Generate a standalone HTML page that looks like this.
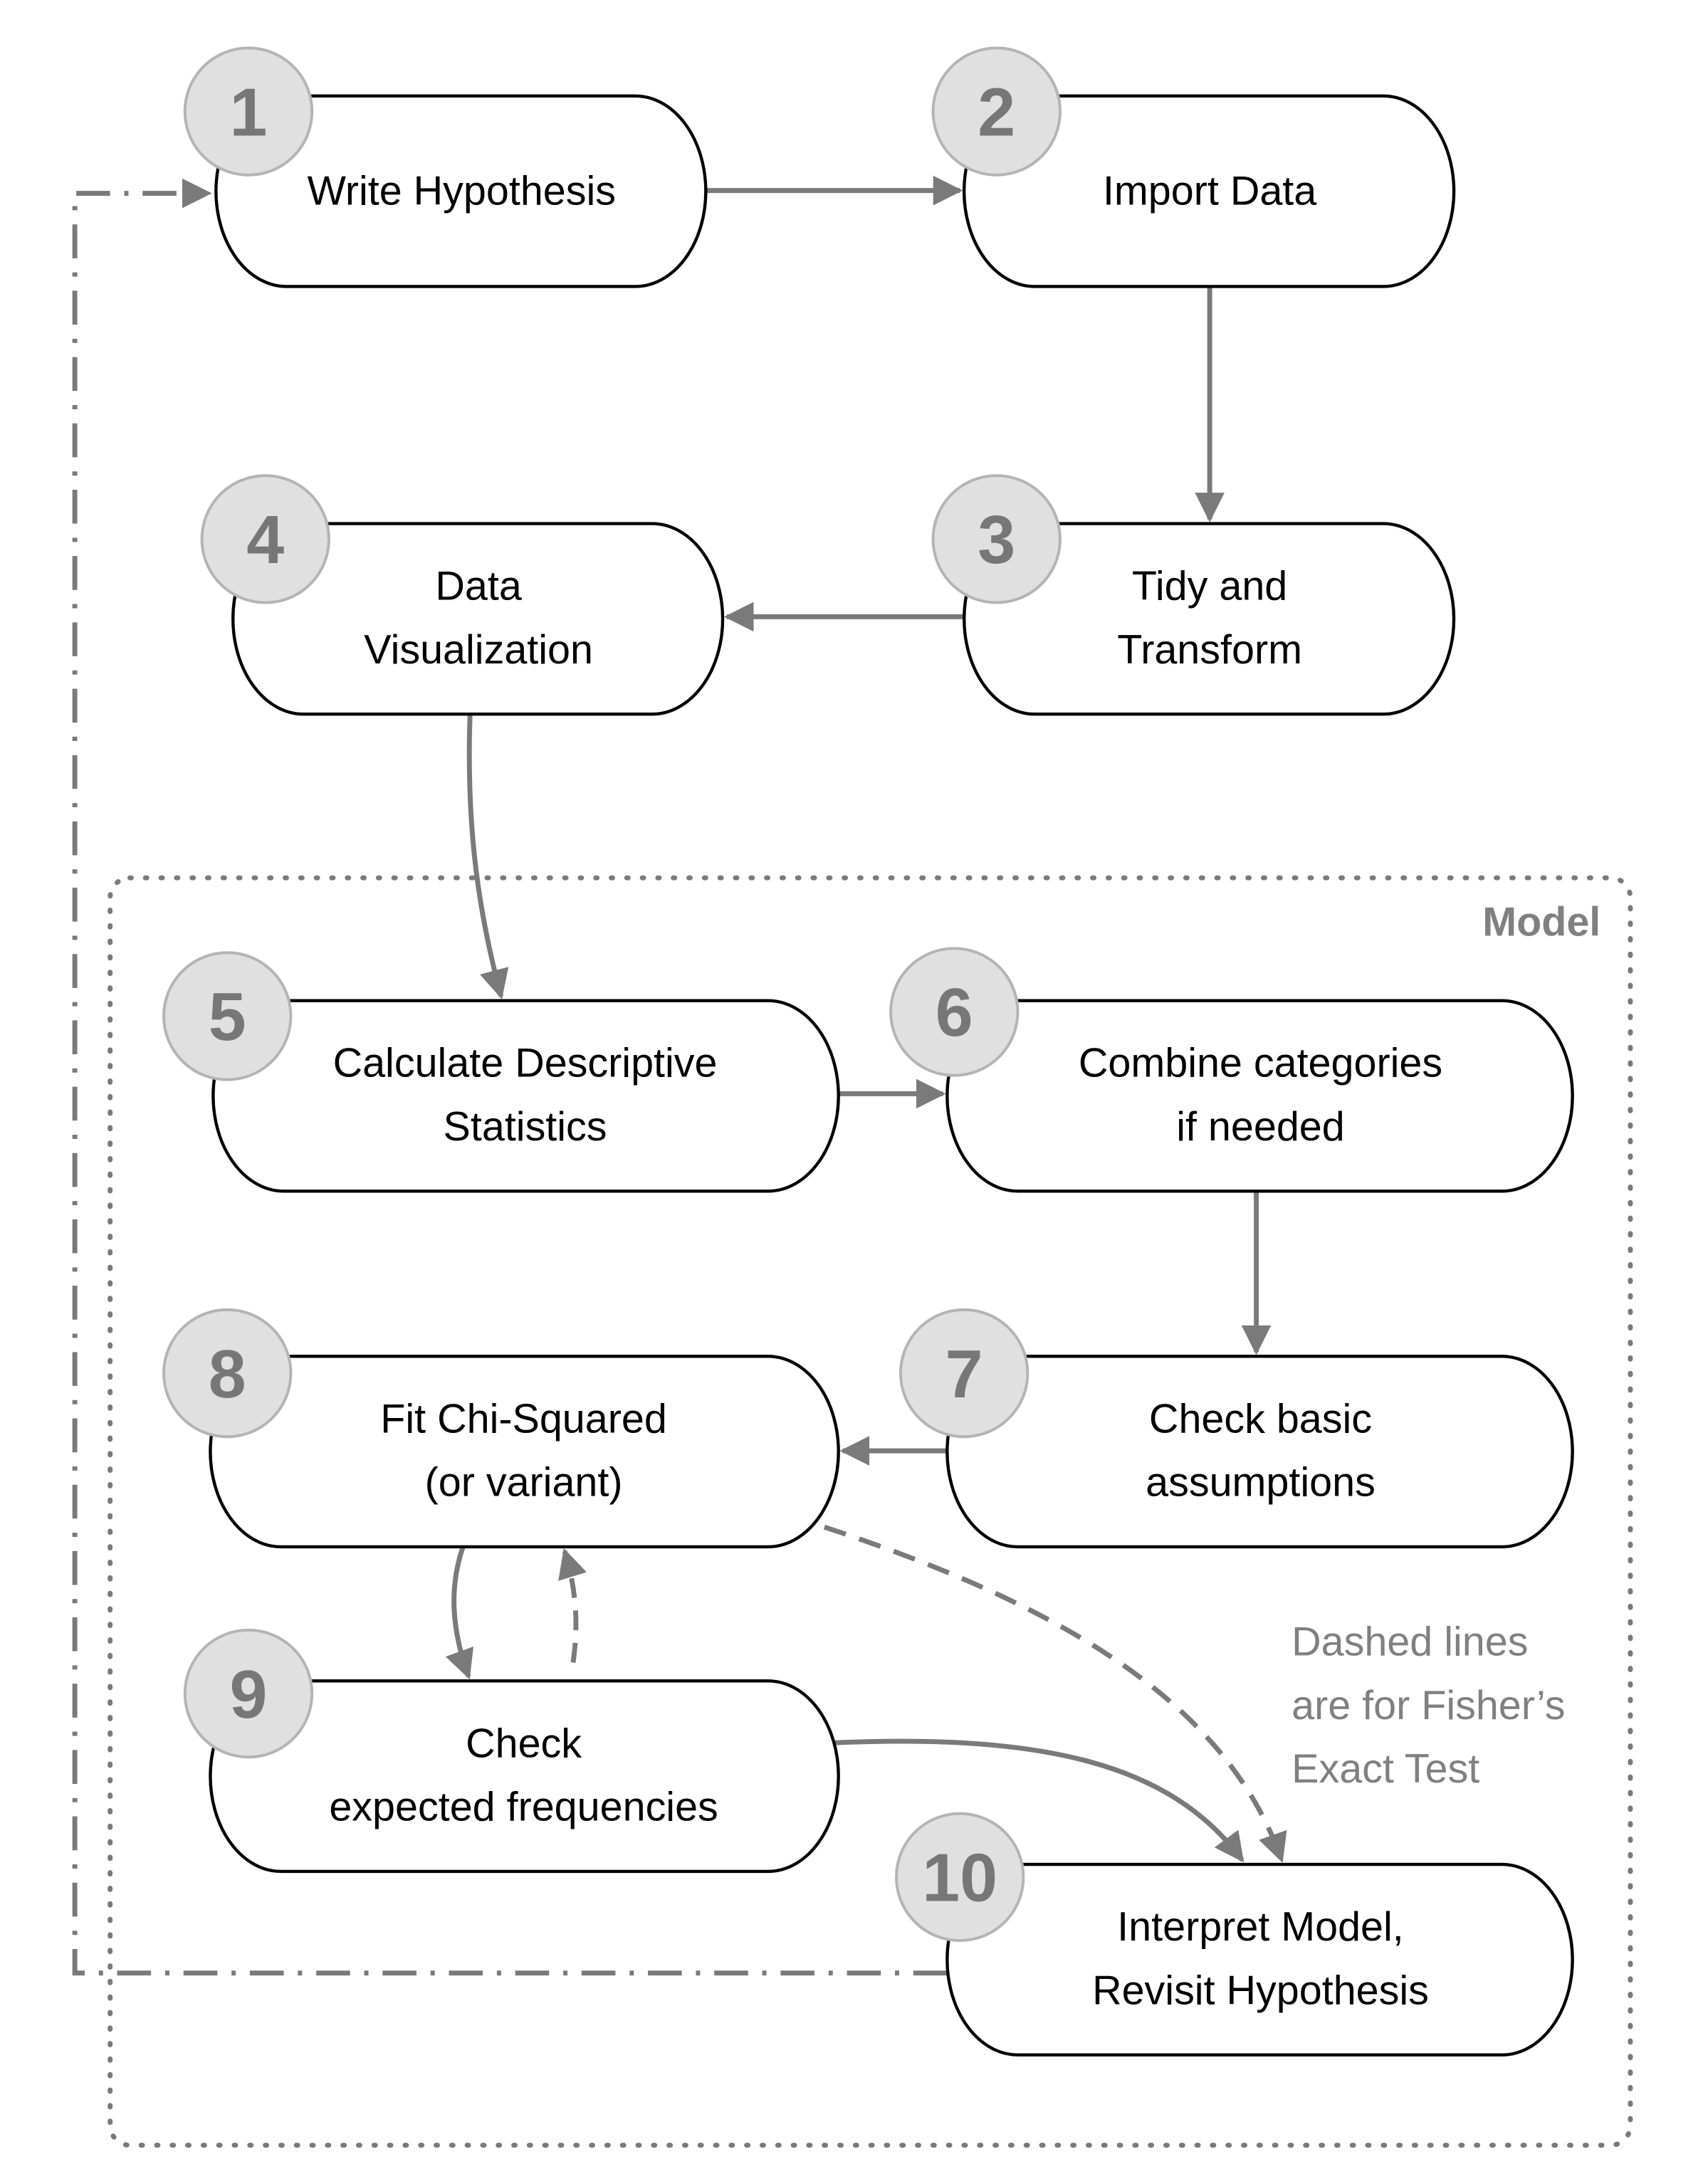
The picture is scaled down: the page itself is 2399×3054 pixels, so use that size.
<!DOCTYPE html>
<html><head><meta charset="utf-8"><style>
html,body{margin:0;padding:0;background:#fff;}
svg{display:block;}
.t{font-family:"Liberation Sans",sans-serif;font-size:29px;fill:#000;text-anchor:middle;}
.n{font-family:"Liberation Sans",sans-serif;font-size:48px;font-weight:bold;fill:#777;text-anchor:middle;}
.g{font-family:"Liberation Sans",sans-serif;font-size:29px;fill:#808080;}
.b{fill:#fff;stroke:#000;stroke-width:2.2;}
.c{fill:#e0e0e0;stroke:#b4b4b4;stroke-width:2;}
.a{fill:none;stroke:#7a7a7a;stroke-width:3.5;}
</style></head><body>
<svg width="2399" height="3054" viewBox="0 0 1210 1540.4" xmlns="http://www.w3.org/2000/svg">
<defs>
<marker id="ar" viewBox="0 0 10 10" refX="9" refY="5" markerWidth="6" markerHeight="6" orient="auto" markerUnits="strokeWidth">
<path d="M0,0 L10,5 L0,10 z" fill="#7a7a7a"/></marker>
</defs>
<rect x="78" y="622" width="1077" height="898" rx="14" fill="none" stroke="#7a7a7a" stroke-width="3.5" stroke-dasharray="1 10" stroke-linecap="round"/>
<text x="1134" y="663" class="g" font-weight="bold" text-anchor="end" font-size="28">Model</text>
<path d="M671,1398 H53 V137 H148" class="a" stroke-dasharray="24 10 3 10" marker-end="url(#ar)"/>
<path d="M500,135 H680" class="a" marker-end="url(#ar)"/>
<path d="M857,203 V368" class="a" marker-end="url(#ar)"/>
<path d="M683,437 H515" class="a" marker-end="url(#ar)"/>
<path d="M333,506 C330,590 340,650 355,706" class="a" marker-end="url(#ar)"/>
<path d="M594,775 H668" class="a" marker-end="url(#ar)"/>
<path d="M890,844 V958" class="a" marker-end="url(#ar)"/>
<path d="M671,1028 H597" class="a" marker-end="url(#ar)"/>
<path d="M328,1096 C318,1125 320,1155 332,1188" class="a" marker-end="url(#ar)"/>
<path d="M406,1178 C410,1150 408,1125 400,1099" class="a" stroke-dasharray="14 9" marker-end="url(#ar)"/>
<path d="M588,1235 C740,1228 830,1250 880,1318" class="a" marker-end="url(#ar)"/>
<path d="M584,1082 C760,1140 870,1210 908,1318" class="a" stroke-dasharray="16 10" marker-end="url(#ar)"/>
<g>
<path class="b" d="M203,68 H450 A50,67.5 0 0 1 450,203 H203 A50,67.5 0 0 1 203,68 Z"/>
<path class="b" d="M733,68 H980 A50,67.5 0 0 1 980,203 H733 A50,67.5 0 0 1 733,68 Z"/>
<path class="b" d="M733,371 H980 A50,67.5 0 0 1 980,506 H733 A50,67.5 0 0 1 733,371 Z"/>
<path class="b" d="M215,371 H462 A50,67.5 0 0 1 462,506 H215 A50,67.5 0 0 1 215,371 Z"/>
<path class="b" d="M201,709 H544 A50,67.5 0 0 1 544,844 H201 A50,67.5 0 0 1 201,709 Z"/>
<path class="b" d="M721,709 H1064 A50,67.5 0 0 1 1064,844 H721 A50,67.5 0 0 1 721,709 Z"/>
<path class="b" d="M721,961 H1064 A50,67.5 0 0 1 1064,1096 H721 A50,67.5 0 0 1 721,961 Z"/>
<path class="b" d="M199,961 H544 A50,67.5 0 0 1 544,1096 H199 A50,67.5 0 0 1 199,961 Z"/>
<path class="b" d="M199,1191 H544 A50,67.5 0 0 1 544,1326 H199 A50,67.5 0 0 1 199,1191 Z"/>
<path class="b" d="M721,1321 H1064 A50,67.5 0 0 1 1064,1456 H721 A50,67.5 0 0 1 721,1321 Z"/>
</g>
<text class="t" x="327" y="145">Write Hypothesis</text>
<text class="t" x="857" y="145">Import Data</text>
<text class="t" x="857" y="425">Tidy and</text><text class="t" x="857" y="470">Transform</text>
<text class="t" x="339" y="425">Data</text><text class="t" x="339" y="470">Visualization</text>
<text class="t" x="372" y="763">Calculate Descriptive</text><text class="t" x="372" y="808">Statistics</text>
<text class="t" x="893" y="763">Combine categories</text><text class="t" x="893" y="808">if needed</text>
<text class="t" x="893" y="1015">Check basic</text><text class="t" x="893" y="1060">assumptions</text>
<text class="t" x="371" y="1015">Fit Chi-Squared</text><text class="t" x="371" y="1060">(or variant)</text>
<text class="t" x="371" y="1245">Check</text><text class="t" x="371" y="1290">expected frequencies</text>
<text class="t" x="893" y="1375">Interpret Model,</text><text class="t" x="893" y="1420">Revisit Hypothesis</text>
<text class="g" x="915" y="1173">Dashed lines</text>
<text class="g" x="915" y="1218">are for Fisher’s</text>
<text class="g" x="915" y="1263">Exact Test</text>
<g>
<circle class="c" cx="176" cy="79" r="45"/><text class="n" x="176" y="96">1</text>
<circle class="c" cx="706" cy="79" r="45"/><text class="n" x="706" y="96">2</text>
<circle class="c" cx="188" cy="382" r="45"/><text class="n" x="188" y="399">4</text>
<circle class="c" cx="706" cy="382" r="45"/><text class="n" x="706" y="399">3</text>
<circle class="c" cx="161" cy="720" r="45"/><text class="n" x="161" y="737">5</text>
<circle class="c" cx="676" cy="717" r="45"/><text class="n" x="676" y="734">6</text>
<circle class="c" cx="161" cy="973" r="45"/><text class="n" x="161" y="990">8</text>
<circle class="c" cx="683" cy="973" r="45"/><text class="n" x="683" y="990">7</text>
<circle class="c" cx="176" cy="1200" r="45"/><text class="n" x="176" y="1217">9</text>
<circle class="c" cx="680" cy="1330" r="45"/><text class="n" x="680" y="1347">10</text>
</g>
</svg>
</body></html>
